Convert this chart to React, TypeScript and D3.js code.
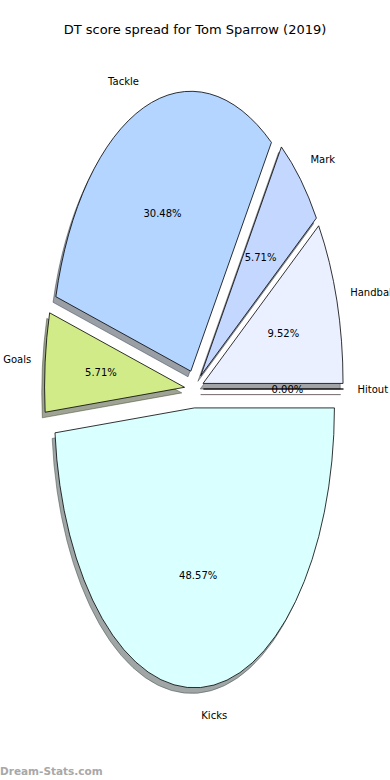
import React, { useEffect, useRef } from "react";
import * as d3 from "d3";

const labels = ["Handball", "Mark", "Tackle", "Goals", "Kicks", "Hitout"];
const values = [9.52, 5.71, 30.48, 5.71, 48.57, 0.0];
const colors = ["#eaf0ff", "#c4d8ff", "#b3d5ff", "#d0eb88", "#d9ffff", "#ffe0e0"];
const title = "DT score spread for Tom Sparrow (2019)";

const W = 390;
const H = 780;

const App = () => {
  const ref = useRef<SVGSVGElement>(null);

  useEffect(() => {
    const svg = d3.select(ref.current);
    svg.selectAll("*").remove();

    // pie is not equal-aspect, so one data unit is sx by sy pixels
    const cx = 194;
    const cy = 389;
    const sx = 140;
    const sy = 280;
    const explode = 0.0676;
    const shadowOff = 0.02;

    const x = d3.scaleLinear().domain([-1, 1]).range([cx - sx, cx + sx]);
    const y = d3.scaleLinear().domain([-1, 1]).range([cy + sy, cy - sy]);

    // matplotlib style: start at east, go counterclockwise
    const pie = d3
      .pie<number>()
      .sort(null)
      .value((d) => d)
      .startAngle(Math.PI / 2)
      .endAngle(Math.PI / 2 - 2 * Math.PI);
    const arcs = pie(values);
    const arc = d3.arc<any>().innerRadius(0).outerRadius(1);

    // d3 angle -> math angle
    const mid = (a: any) => Math.PI / 2 - (a.startAngle + a.endAngle) / 2;

    svg
      .append("text")
      .attr("x", W / 2)
      .attr("y", 34)
      .attr("text-anchor", "middle")
      .attr("font-size", 13)
      .text(title);

    const g = svg.append("g");

    const place = (a: any, dx = 0, dy = 0) => {
      const t = mid(a);
      const ox = explode * Math.cos(t) + dx;
      const oy = explode * Math.sin(t) + dy;
      return `translate(${x(ox)},${y(oy)}) scale(${sx},${sy})`;
    };

    // shadows first
    arcs.forEach((a, i) => {
      const c = d3.rgb(colors[i]);
      const sh = d3.rgb(c.r * 0.3, c.g * 0.3, c.b * 0.3);
      g.append("path")
        .attr("d", arc(a))
        .attr("transform", place(a, -shadowOff, -shadowOff))
        .attr("fill", sh.toString())
        .attr("fill-opacity", 0.5)
        .attr("stroke", sh.toString())
        .attr("stroke-opacity", 0.5)
        .attr("stroke-width", 1)
        .attr("vector-effect", "non-scaling-stroke");
    });

    arcs.forEach((a, i) => {
      g.append("path")
        .attr("d", arc(a))
        .attr("transform", place(a))
        .attr("fill", colors[i])
        .attr("stroke", "#000")
        .attr("stroke-width", 0.8)
        .attr("stroke-linejoin", "round")
        .attr("vector-effect", "non-scaling-stroke");
    });

    arcs.forEach((a, i) => {
      const t = mid(a);
      const lx = (explode + 1.1) * Math.cos(t);
      const ly = (explode + 1.1) * Math.sin(t);
      g.append("text")
        .attr("x", x(lx))
        .attr("y", y(ly))
        .attr("dy", "0.35em")
        .attr("text-anchor", lx > 0 ? "start" : "end")
        .attr("font-size", 10)
        .text(labels[i]);

      const px = (explode + 0.6) * Math.cos(t);
      const py = (explode + 0.6) * Math.sin(t);
      g.append("text")
        .attr("x", x(px))
        .attr("y", y(py))
        .attr("dy", "0.35em")
        .attr("text-anchor", "middle")
        .attr("font-size", 10)
        .text(values[i].toFixed(2) + "%");
    });

    svg
      .append("text")
      .attr("x", 0)
      .attr("y", 775)
      .attr("font-size", 10.5)
      .attr("font-weight", "bold")
      .attr("fill", "#a8a8a8")
      .text("Dream-Stats.com");
  }, []);

  return (
    <svg
      ref={ref}
      width={W}
      height={H}
      style={{
        position: "absolute",
        left: 0,
        top: 0,
        background: "#fff",
        fontFamily: "'DejaVu Sans', sans-serif",
      }}
    />
  );
};

export default App;
